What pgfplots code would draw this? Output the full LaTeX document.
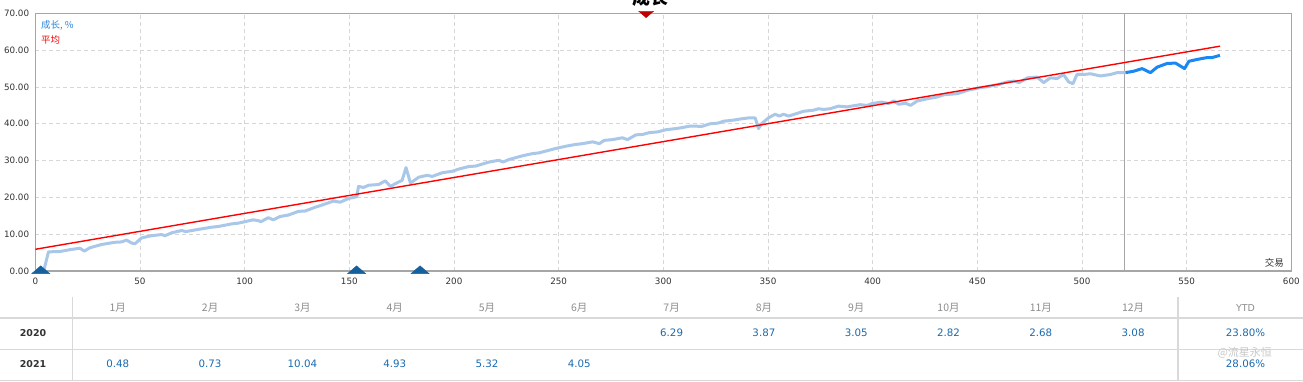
\documentclass[border=0pt]{standalone}
\usepackage{pgfplots}
\pgfplotsset{compat=1.18}
\usepackage{fontspec}
\setmainfont{DejaVu Sans}
\newfontfamily\cjk{Noto Sans CJK SC}
\definecolor{lightline}{HTML}{A9C7E8}
\definecolor{darkline}{HTML}{1A88F2}
\definecolor{avgred}{HTML}{FF0000}
\definecolor{axgray}{HTML}{A6A6A6}
\definecolor{gridgray}{HTML}{D6D6D6}
\definecolor{tickdark}{HTML}{333333}
\definecolor{markblue}{HTML}{15609E}
\definecolor{markred}{HTML}{C00000}
\definecolor{legblue}{HTML}{2A86DC}
\definecolor{valblue}{HTML}{1A6AAE}
\definecolor{headgray}{HTML}{8C8C8C}
\definecolor{tabline}{HTML}{D9D9D9}
\begin{document}
\begin{tikzpicture}[x=1bp,y=1bp]
\useasboundingbox (0,0) rectangle (1303,381);
\begin{axis}[
  at={(35.3bp,110bp)}, anchor=south west,
  scale only axis, width=1256bp, height=257.6bp,
  xmin=0, xmax=600, ymin=0, ymax=70,
  xtick={0,50,...,600}, ytick={0,10,...,70},
  grid=major,
  major grid style={draw=gridgray, line width=0.9bp, dash pattern=on 4bp off 3bp},
  axis line style={draw=axgray, line width=1.1bp},
  tick style={draw=none},
  /pgf/number format/assume math mode=true,
  ticklabel style={font=\fontsize{8.8}{10}\selectfont, text=tickdark, inner sep=0pt},
  yticklabel style={anchor=east, xshift=-6bp, /pgf/number format/fixed, /pgf/number format/fixed zerofill, /pgf/number format/precision=2},
  xticklabel style={anchor=north, yshift=-7bp},
]
% end-of-year separator
\addplot[draw=axgray, line width=1bp] coordinates {(520.5,0) (520.5,70)};
% 2020 growth
\addplot[draw=lightline, line width=3bp, line join=round] coordinates {
(0,0) (4,0) (6.3,5.2) (11.8,5.3) (16.6,5.8) (21.3,6.2) (23.4,5.4) (26,6.3) (31.6,7.2) (38,7.8)
(41.2,7.9) (43.6,8.4) (46,7.6) (47.6,7.4) (50.8,9.0) (55.6,9.6) (60.3,9.9) (62,9.6) (65.2,10.4)
(70,11.0) (71.8,10.7) (77.8,11.3) (84.2,11.9) (87.4,12.1) (93.8,12.8) (97,13.0) (104,13.9)
(106.5,13.7) (107.8,13.4) (111.3,14.5) (113.7,13.9) (116.9,14.8) (120.9,15.2) (125.7,16.2)
(128.9,16.3) (133.6,17.3) (138.4,18.2) (142.4,19.0) (145.6,18.7) (149.6,19.7) (153.6,20.2)
(154.4,23.0) (156.8,22.7) (159.2,23.3) (164,23.5) (167.2,24.5) (169.6,23.0) (173.6,24.2)
(175.2,24.6) (177.1,28.1) (179.2,23.9) (183.2,25.5) (187.2,26.0) (189.6,25.7) (194.4,26.7)
(199.2,27.1) (202.3,27.7) (207.1,28.4) (210.3,28.5) (216.7,29.6) (221.5,30.1) (223.4,29.6)
(226.3,30.3) (232.7,31.3) (237.5,31.9) (240.7,32.1) (248.6,33.3) (253.4,33.9) (258.2,34.4)
(261.4,34.6) (266.2,35.1) (269.4,34.6) (271.8,35.5) (275.7,35.7) (280.5,36.2) (282.9,35.7)
(286.9,37.0) (290.1,37.1) (293.3,37.6) (297.3,37.8) (301.3,38.4) (306.1,38.7) (309.3,39.0)
(312.8,39.4) (318.4,39.3) (322.3,40.0) (326.3,40.2) (328.7,40.7) (333.5,41.0) (336.7,41.3)
(340.7,41.6) (343.9,41.6) (345.5,38.7) (347.1,40.1) (350.2,41.6) (353.4,42.6) (355.5,42.1)
(357.4,42.6) (359.8,42.1) (363.8,42.8) (367,43.4) (371.8,43.7) (374.2,44.1) (376.6,43.9)
(379.7,44.1) (383.7,44.8) (387.7,44.6) (390.9,44.9) (394.1,45.2) (397.3,45.0) (399.7,45.5)
(404.5,45.9) (407.7,45.5) (410.1,46.2) (412.5,45.3) (415.7,45.6) (418.1,45.0) (421.3,46.2)
(426.1,46.8) (430.9,47.3) (434.1,47.9) (440.5,48.2) (445.3,49.1) (450.1,49.7) (454.9,50.1)
(459.6,50.6) (464.4,51.4) (467.6,51.6) (470,51.2) (474,52.5) (478.5,52.7) (481.7,51.2)
(484.9,52.5) (488.1,52.3) (491.2,53.4) (493.6,51.4) (495.7,50.9) (497.6,53.4) (500.8,53.4)
(504,53.6) (508.8,53.0) (513.6,53.4) (516.8,53.9) (520.8,53.9)
};
% 2021 growth
\addplot[draw=darkline, line width=3bp, line join=round] coordinates {
(520.8,53.9) (524.8,54.3) (528.7,55.0) (532.7,53.9) (535.9,55.4) (540.7,56.4) (544.7,56.5)
(549,55.0) (551.1,57.0) (555.1,57.5) (559.8,58.0) (562.2,58.0) (565.9,58.6)
};
% average
\addplot[draw=avgred, line width=1.4bp] coordinates {(0,5.9) (566,61.1)};
% markers
\addplot[only marks, mark=triangle*, mark size=10.4bp, mark options={fill=markblue, draw=markblue, yscale=0.5}] coordinates {(2.6,0) (153.5,0) (183.8,0)};
\addplot[only marks, mark=triangle*, mark size=8.5bp, mark options={fill=markred, draw=markred, rotate=180, yscale=0.5}] coordinates {(291.8,70)};
\end{axis}
% title (cut by the page edge)
\node[overlay, anchor=base, font=\cjk\bfseries\fontsize{18}{20}\selectfont] at (650,377) {成长};
% legend
\node[anchor=west, inner sep=0pt, text=legblue, font=\cjk\fontsize{9.5}{11}\selectfont] at (41,356) {成长, \%};
\node[anchor=west, inner sep=0pt, text=avgred, font=\cjk\fontsize{9.5}{11}\selectfont] at (41,341) {平均};
\node[anchor=east, inner sep=0pt, text=tickdark, font=\cjk\fontsize{9.5}{11}\selectfont] at (1284,118) {交易};
% table
\draw[tabline, line width=1.2bp] (0,63) -- (1303,63);
\draw[tabline, line width=1.2bp] (0,31.5) -- (1303,31.5);
\draw[tabline, line width=1.2bp] (0,0.8) -- (1303,0.8);
\draw[tabline, line width=1.2bp] (72.7,84) -- (72.7,0);
\draw[tabline, line width=1.2bp] (1178,84) -- (1178,0);
\foreach \m [count=\i from 0] in {1,...,12} {
  \pgfmathsetmacro{\xx}{117.8+92.3*\i}
  \node[text=headgray, font=\cjk\fontsize{10.5}{12}\selectfont] at (\xx,73) {\m 月};
}
\node[text=headgray, font=\fontsize{9.5}{11}\selectfont] at (1245.5,73) {YTD};
\node[text=tickdark, font=\bfseries\fontsize{9.5}{11}\selectfont] at (33,48) {2020};
\node[text=tickdark, font=\bfseries\fontsize{9.5}{11}\selectfont] at (33,17) {2021};
\foreach \v [count=\i from 6] in {6.29,3.87,3.05,2.82,2.68,3.08} {
  \pgfmathsetmacro{\xx}{117.8+92.3*\i}
  \node[text=valblue, font=\fontsize{10.3}{12}\selectfont] at (\xx,48) {\v};
}
\foreach \v [count=\i from 0] in {0.48,0.73,10.04,4.93,5.32,4.05} {
  \pgfmathsetmacro{\xx}{117.8+92.3*\i}
  \node[text=valblue, font=\fontsize{10.3}{12}\selectfont] at (\xx,17) {\v};
}
\node[text=valblue, font=\fontsize{10.3}{12}\selectfont] at (1245.5,48) {23.80\%};
\node[text=valblue, font=\fontsize{10.3}{12}\selectfont] at (1245.5,17) {28.06\%};
\node[anchor=west, text=black!22, font=\cjk\fontsize{11}{12}\selectfont] at (1214,28) {@流星永恒};
\end{tikzpicture}
\end{document}
